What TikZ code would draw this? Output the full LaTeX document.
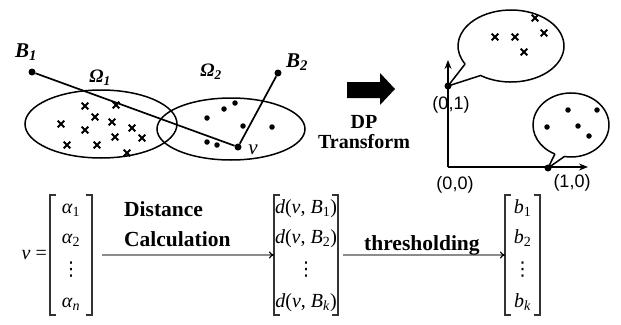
\documentclass[tikz,border=0pt]{standalone}
\usepackage{fontspec}
\setmainfont{Liberation Serif}
\newfontfamily\axfont{Liberation Sans}
\newfontfamily\symfont{DejaVu Sans}
\usetikzlibrary{arrows.meta}
\newcommand\ii[1]{\textit{#1}}
\newcommand\sbs[1]{\textsubscript{#1}}
\tikzset{
  pt/.style={circle,fill=black,inner sep=0pt,minimum size=7},
  smalldot/.style={circle,fill=black,inner sep=0pt,minimum size=5.5},
  xmark/.pic={\draw[line width=2pt] (-3.3,-3.3)--(3.3,3.3) (-3.3,3.3)--(3.3,-3.3);},
  region/.style={line width=1.5pt},
  conn/.style={line width=1.7pt},
  lbl/.style={font=\fontsize{21}{23}\selectfont\bfseries\itshape,inner sep=0pt},
  olbl/.style={font=\fontsize{19}{21}\selectfont\bfseries\itshape,inner sep=0pt},
  axlbl/.style={font=\fontsize{18}{20}\selectfont\axfont,inner sep=0pt},
  bold/.style={font=\fontsize{21.5}{23}\selectfont\bfseries,inner sep=0pt},
  ent/.style={font=\fontsize{20}{22}\selectfont,inner sep=0pt,text height=12pt,text depth=3pt},
  dts/.style={font=\fontsize{19}{20}\selectfont\symfont,inner sep=0pt},
  mat/.style={draw=none,inner sep=0pt,outer sep=0pt,minimum height=120},
  brk/.style={line width=1.1pt,draw=black!80},
  garrow/.style={draw=black!45,line width=1.2pt,-{To[length=5pt,width=7pt,color=black]}},
  bubble/.style={line width=1.5pt},
  axis/.style={line width=1.4pt,-{Stealth[length=9pt,width=7pt]}}
}
\begin{document}
\begin{tikzpicture}[x=1pt,y=-1pt]
\useasboundingbox (0,0) rectangle (621,324);
% ---- left sets
\draw[region] (101,124) ellipse [x radius=76, y radius=34];
\draw[region] (231,129) ellipse [x radius=74, y radius=31];
\node[pt] (B1) at (32,72) {};
\node[pt] (B2) at (278,73) {};
\node[pt] (v) at (238,147) {};
\draw[conn] (B1) -- (v) -- (B2);
\node[lbl] (lB1) at (26,52) {B\sbs{1}};
\node[lbl] (lB2) at (297,62) {B\sbs{2}};
\node[olbl] (lO1) at (100,78) {Ω\sbs{1}};
\node[olbl] (lO2) at (211,72) {Ω\sbs{2}};
\node[ent,font=\fontsize{21}{23}\selectfont] (lv) at (253,150) {\ii{v}};
\foreach \p in {(85,106),(116,105),(95,117),(112,122),(61,124),(85,130),(132,128),(115,137),(142,138),(67,145),(97,145),(127,153)}
  \pic at \p {xmark};
\foreach \p/\n in {(235,103)/d1,(224,109)/d2,(207,118)/d3,(243,126)/d4,(272,127)/d5,(207,142)/d6,(217,145)/d7}
  \node[smalldot] (\n) at \p {};
% ---- DP arrow
\fill (347,82) -- (380,82) -- (380,73) -- (395,89) -- (380,105) -- (380,98) -- (347,98) -- cycle;
\node[bold,font=\fontsize{20}{21}\selectfont\bfseries,align=center] (dp) at (364,132) {DP\\[-1pt]Transform};
% ---- right panel
\coordinate (O) at (448,167);
\coordinate (Ytop) at (448,60);
\coordinate (Xend) at (588,167);
\draw[axis] (O) -- (Ytop);
\draw[axis] (O) -- (Xend);
\node[pt] (P01) at (448,86) {};
\node[pt] (P10) at (548,168) {};
\draw[bubble] (465.1,64) -- (P01.center) -- (480.6,75.5) arc[start angle=125,end angle=-210,x radius=53,y radius=36];
\draw[bubble] (554.9,154) -- (P10.center) -- (564.4,156.5) arc[start angle=100,end angle=-245,x radius=38,y radius=32];
\foreach \p in {(535,18),(495,37),(515,37),(544,33),(524,52)}
  \pic at \p {xmark};
\foreach \p/\n in {(568,110)/e1,(597,110)/e2,(547,127)/e3,(578,126)/e4,(589,136)/e5}
  \node[smalldot] (\n) at \p {};
\node[axlbl] (l01) at (451,105) {(0,1)};
\node[axlbl] (l00) at (455,185) {(0,0)};
\node[axlbl] (l10) at (572,183) {(1,0)};
% ---- bottom matrices
\node[mat,minimum width=42] (m1) at (71,255) {};
\node[mat,minimum width=64] (m2) at (306,255) {};
\node[mat,minimum width=35] (m3) at (522.5,255) {};
\foreach \m in {m1,m2,m3}{
  \draw[brk] ([xshift=6]\m.north west) -- (\m.north west) -- (\m.south west) -- ([xshift=6]\m.south west);
  \draw[brk] ([xshift=-6]\m.north east) -- (\m.north east) -- (\m.south east) -- ([xshift=-6]\m.south east);
}
\node[ent,anchor=east] (veq) at ([xshift=-3]m1.west) {\ii{v} =};
\node[ent] (a1) at (71,209) {\ii{α}\sbs{1}};
\node[ent] (a2) at (71,239) {\ii{α}\sbs{2}};
\node[dts] (a3) at (71,270) {⋮};
\node[ent] (a4) at (71,303) {\ii{α}\sbs{\ii{n}}};
\node[ent] (d1) at (306,209) {\ii{d}(\ii{v}, \ii{B}\sbs{1})};
\node[ent] (d2) at (306,239) {\ii{d}(\ii{v}, \ii{B}\sbs{2})};
\node[dts] (d3) at (306,270) {⋮};
\node[ent] (d4) at (306,303) {\ii{d}(\ii{v}, \ii{B}\sbs{\ii{k}})};
\node[ent] (b1) at (522.5,209) {\ii{b}\sbs{1}};
\node[ent] (b2) at (522.5,239) {\ii{b}\sbs{2}};
\node[dts] (b3) at (522.5,270) {⋮};
\node[ent] (b4) at (522.5,303) {\ii{b}\sbs{\ii{k}}};
\draw[garrow,shorten <=10pt] (m1) -- (m2);
\draw[garrow,shorten <=5pt] (m2) -- (m3);
\node[bold,anchor=base west] (t1) at (124,216) {Distance};
\node[bold,anchor=base west] (t2) at (124,246) {Calculation};
\node[bold,anchor=base west] (t3) at (364,250) {thresholding};
\end{tikzpicture}
\end{document}
